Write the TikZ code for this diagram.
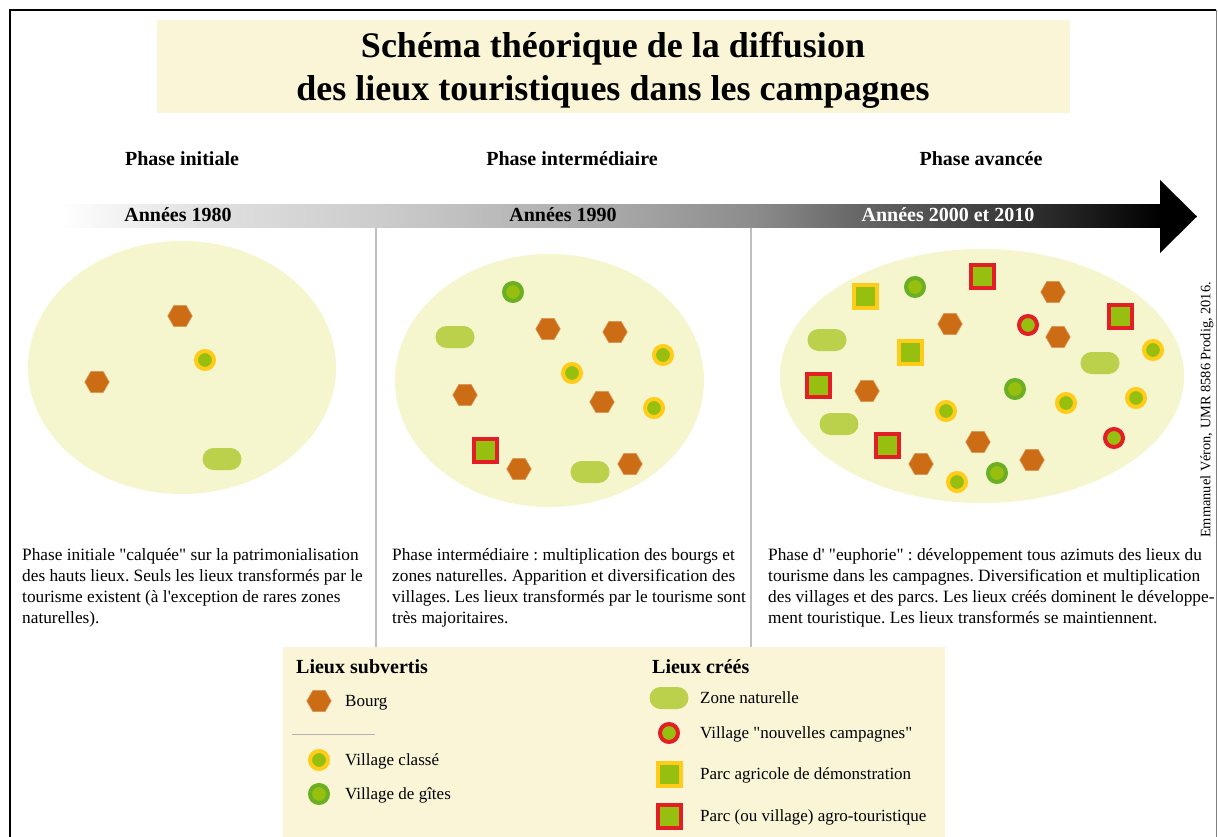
\documentclass[tikz,border=0pt]{standalone}
\usepackage{fontspec}
\setmainfont{Liberation Serif}
\newfontfamily\tnr{Liberation Serif}
\usetikzlibrary{shapes.geometric}
\definecolor{ellfill}{HTML}{F5F5CE}
\definecolor{boxfill}{HTML}{FAF5D6}
\definecolor{hexcol}{HTML}{CC6C14}
\definecolor{pillcol}{HTML}{BCD14B}
\definecolor{yelcol}{HTML}{FFCC1A}
\definecolor{grncol}{HTML}{97BF0F}
\definecolor{gitcol}{HTML}{6BAF22}
\definecolor{redcol}{HTML}{E31E24}
\pgfdeclarehorizontalshading{arrowgrad}{100bp}{color(0bp)=(white); color(25bp)=(white); color(31.5bp)=(black!12); color(39.5bp)=(black!20); color(49.5bp)=(black!33); color(56.5bp)=(black!45); color(61bp)=(black!59); color(67.5bp)=(black!76); color(72bp)=(black!90); color(75bp)=(black); color(100bp)=(black)}
\frenchspacing
\tikzset{
  every node/.style={font=\tnr},
  hexa/.style={regular polygon, regular polygon sides=6, minimum size=24.5pt, inner sep=0pt, fill=hexcol, draw=hexcol!70!white, line width=0.6pt},
  classe/.style={circle, minimum size=18pt, inner sep=0pt, fill=grncol, draw=yelcol, line width=4pt},
  gites/.style={circle, minimum size=18pt, inner sep=0pt, fill=grncol, draw=gitcol, line width=4pt},
  nouv/.style={circle, minimum size=18pt, inner sep=0pt, fill=grncol, draw=redcol, line width=4pt},
  pagri/.style={rectangle, minimum size=23pt, inner sep=0pt, fill=grncol, draw=yelcol, line width=4pt},
  ptour/.style={rectangle, minimum size=23pt, inner sep=0pt, fill=grncol, draw=redcol, line width=4pt},
  pill/.style={rectangle, rounded corners=11pt, minimum width=39pt, minimum height=22pt, inner sep=0pt, fill=pillcol},
  phasehead/.style={anchor=base, inner sep=0pt, font=\tnr\bfseries\fontsize{20}{24}\selectfont},
  yearlab/.style={anchor=base, inner sep=0pt, font=\tnr\bfseries\fontsize{20}{24}\selectfont},
  bodytext/.style={anchor=north west, inner sep=0pt, align=left, font=\tnr\fontsize{17.3}{21}\selectfont},
  leghead/.style={anchor=base west, inner sep=0pt, font=\tnr\bfseries\fontsize{20}{24}\selectfont},
  leglab/.style={anchor=base west, inner sep=0pt, font=\tnr\fontsize{17}{21}\selectfont},
}
\begin{document}
\begin{tikzpicture}[x=1pt, y=-1pt]
\useasboundingbox (0,0) rectangle (1218,837);
% frame
\draw[line width=2pt] (10,837) -- (10,10) -- (1216,10);
\draw[black!50, line width=1pt] (1216,10) -- (1216,837);
% title
\fill[boxfill] (157,20) rectangle (1070,113);
\node[align=center, inner sep=0pt, font=\tnr\bfseries\fontsize{36}{43}\selectfont] (title) at (613,70) {Schéma théorique de la diffusion\\des lieux touristiques dans les campagnes};
% phase headers
\node[phasehead] (ph1) at (182,166) {Phase initiale};
\node[phasehead] (ph2) at (572,166) {Phase intermédiaire};
\node[phasehead] (ph3) at (981,166) {Phase avancée};
% arrow
\shade[shading=arrowgrad] (60,205) rectangle (1160,228);
\fill[black] (1160,180) -- (1197,216.5) -- (1160,253) -- cycle;
\node[yearlab] (y1) at (178,222) {Années 1980};
\node[yearlab] (y2) at (563,222) {Années 1990};
\node[yearlab, text=white] (y3) at (948,222) {Années 2000 et 2010};
% separators
\draw[black!25, line width=1.5pt] (376,228) -- (376,647);
\draw[black!25, line width=1.5pt] (751,228) -- (751,647);
% ellipses
\fill[ellfill] (182,367.5) ellipse [x radius=154, y radius=126.5];
\fill[ellfill] (549.5,380.5) ellipse [x radius=154.5, y radius=126.5];
\fill[ellfill] (982,376) ellipse [x radius=202, y radius=127];
% symbols
\foreach \x/\y [count=\i] in {180/316,97/382,548/329,615/332,465/395,602/402,519/469,630/464,1053/292,950/324,1058/337,867/391,978/442,1032/460,921/464}
  \node[hexa] (hx\i) at (\x,\y) {};
\foreach \x/\y [count=\i] in {205/360,663/355,572/373,654/408,1153/350,1066/403,1136/398,946/411,957/482}
  \node[classe] (vc\i) at (\x,\y) {};
\foreach \x/\y [count=\i] in {513/292,915/287,1015/389,997/473}
  \node[gites] (vg\i) at (\x,\y) {};
\foreach \x/\y [count=\i] in {222/459,455/337,590/472,827/340,1100/363,839/424}
  \node[pill] (zn\i) at (\x,\y) {};
\foreach \x/\y [count=\i] in {1028/325,1114/438}
  \node[nouv] (vn\i) at (\x,\y) {};
\foreach \x/\y [count=\i] in {865/296,910/352}
  \node[pagri] (pa\i) at (\x,\y) {};
\foreach \x/\y [count=\i] in {485/450,982/276,1120/316,818/385,887/445}
  \node[ptour] (pt\i) at (\x,\y) {};
% body texts
\node[bodytext] (t1) at (22,548) {Phase initiale "calquée" sur la patrimonialisation\\des hauts lieux. Seuls les lieux transformés par le\\tourisme existent (à l'exception de rares zones\\naturelles).};
\node[bodytext] (t2) at (392,548) {Phase intermédiaire : multiplication des bourgs et\\zones naturelles. Apparition et diversification des\\villages. Les lieux transformés par le tourisme sont\\très majoritaires.};
\node[bodytext] (t3) at (768,548) {Phase d' "euphorie" : développement tous azimuts des lieux du\\tourisme dans les campagnes. Diversification et multiplication\\des villages et des parcs. Les lieux créés dominent le développe-\\ment touristique. Les lieux transformés se maintiennent.};
% credit
\node[rotate=90, inner sep=0pt, font=\tnr\fontsize{14.4}{18}\selectfont] (credit) at (1207,410) {Emmanuel Véron, UMR 8586 Prodig, 2016.};
% legend
\fill[boxfill] (283,647) rectangle (945,837);
\node[leghead] (lh1) at (296,673) {Lieux subvertis};
\node[hexa] (lgb) at (319,701) {};
\node[leglab] (lb) at (345,706) {Bourg};
\draw[black!30, line width=1pt] (292,734) -- (375,734);
\node[classe] (lgc) at (319,760) {};
\node[leglab] (lc) at (345,765) {Village classé};
\node[gites] (lgg) at (319,794) {};
\node[leglab] (lg) at (345,799) {Village de gîtes};
\node[leghead] (lh2) at (652,673) {Lieux créés};
\node[pill] (lgz) at (669,698) {};
\node[leglab] (lz) at (700,703) {Zone naturelle};
\node[nouv] (lgn) at (669,733) {};
\node[leglab] (ln) at (700,738) {Village "nouvelles campagnes"};
\node[pagri] (lgp) at (669,774) {};
\node[leglab] (lp) at (700,779) {Parc agricole de démonstration};
\node[ptour] (lgt) at (669,816) {};
\node[leglab] (lt) at (700,821) {Parc (ou village) agro-touristique};
\end{tikzpicture}
\end{document}
